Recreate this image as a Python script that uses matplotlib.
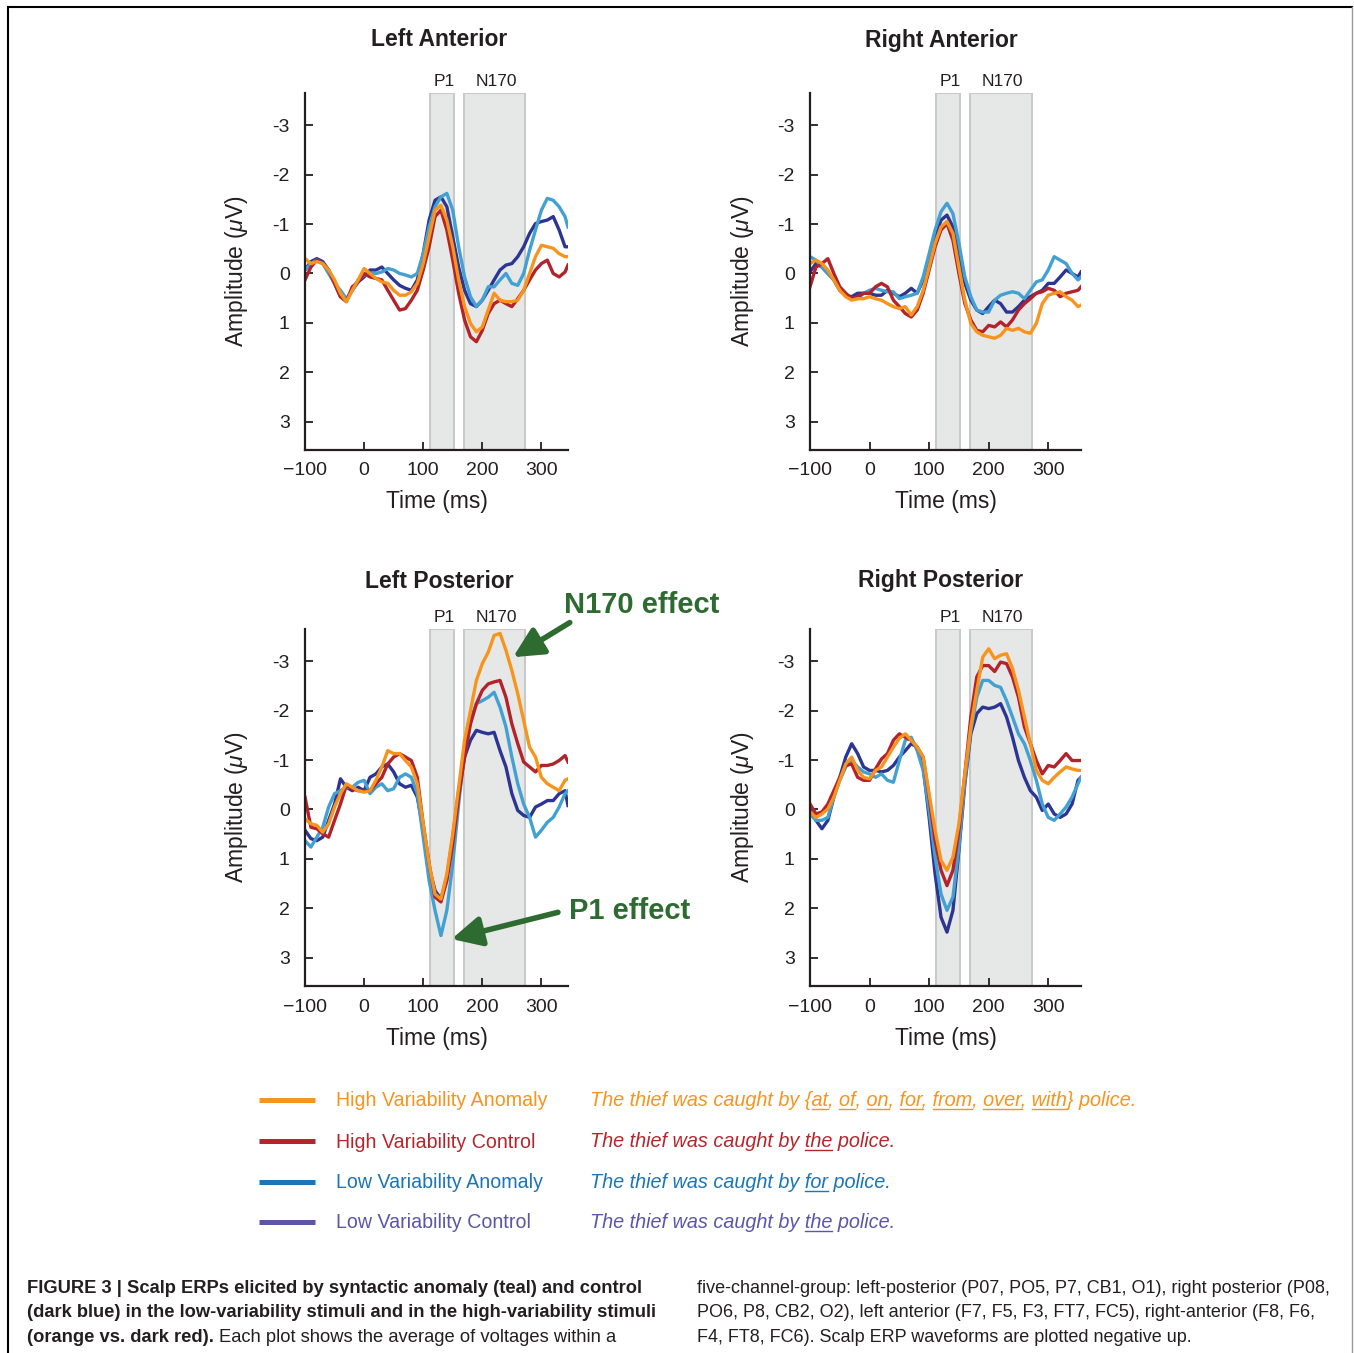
import matplotlib
matplotlib.use("Agg")
import matplotlib.pyplot as plt
from matplotlib.lines import Line2D

plt.rcParams['font.family'] = ['Liberation Sans', 'DejaVu Sans']
plt.rcParams['mathtext.fontset'] = 'custom'
plt.rcParams['mathtext.rm'] = 'Liberation Sans'
plt.rcParams['mathtext.it'] = 'Liberation Sans:italic'

W, H = 1354, 1353

# ---------------- data ----------------
time_left = [-100, -90, -80, -70, -60, -50, -40, -30, -20, -10,
             0, 10, 20, 30, 40, 50, 60, 70, 80, 90,
             100, 110, 120, 130, 140, 150, 160, 170, 180, 190,
             200, 210, 220, 230, 240, 250, 260, 270, 280, 290,
             300, 310, 320, 330, 340, 345]
time_right = [-100, -90, -80, -70, -60, -50, -40, -30, -20, -10,
              0, 10, 20, 30, 40, 50, 60, 70, 80, 90,
              100, 110, 120, 130, 140, 150, 160, 170, 180, 190,
              200, 210, 220, 230, 240, 250, 260, 270, 280, 290,
              300, 310, 320, 330, 340, 350, 355]

# Left Anterior
la_hva = [-0.3, -0.2, -0.24, -0.2, -0.07, 0.13, 0.4, 0.57, 0.34, 0.13,
          -0.1, 0, 0.1, 0.17, 0.2, 0.34, 0.44, 0.44, 0.37, 0.2,
          -0.2, -0.74, -1.28, -1.38, -1.08, -0.54, 0.13, 0.67, 1.01, 1.18,
          1.08, 0.74, 0.4, 0.54, 0.57, 0.57, 0.54, 0.34, 0, -0.34,
          -0.57, -0.54, -0.51, -0.4, -0.34, -0.34]
la_hvc = [0.13, -0.13, -0.27, -0.2, -0.07, 0.2, 0.47, 0.57, 0.27, 0.17,
          0, 0.07, 0.1, 0.13, 0.34, 0.54, 0.74, 0.71, 0.54, 0.34,
          -0.07, -0.54, -1.15, -1.28, -0.88, -0.27, 0.4, 0.94, 1.28, 1.38,
          1.15, 0.81, 0.61, 0.54, 0.61, 0.67, 0.51, 0.34, 0.13, -0.07,
          -0.2, -0.27, 0, 0.07, -0.03, -0.17]
la_lva = [-0.07, -0.2, -0.27, -0.2, 0, 0.2, 0.34, 0.51, 0.34, 0.13,
          0.03, 0, 0, -0.03, -0.1, -0.07, 0, 0.03, 0.07, 0,
          -0.4, -0.94, -1.35, -1.55, -1.62, -1.28, -0.54, 0.07, 0.47, 0.67,
          0.54, 0.27, 0.27, 0.13, 0, 0.2, 0.24, 0, -0.47, -0.88,
          -1.28, -1.52, -1.48, -1.35, -1.15, -0.94]
la_lvc = [-0.07, -0.24, -0.3, -0.24, -0.07, 0.2, 0.47, 0.54, 0.34, 0.17,
          0.07, -0.07, -0.07, -0.13, 0, 0.13, 0.24, 0.3, 0.34, 0.13,
          -0.4, -1.08, -1.48, -1.55, -1.35, -0.74, -0.13, 0.34, 0.61, 0.67,
          0.54, 0.34, 0.13, -0.07, -0.17, -0.2, -0.34, -0.54, -0.81, -1.01,
          -1.05, -1.08, -1.15, -0.88, -0.54, -0.54]

# Right Anterior
ra_hva = [-0.2, -0.27, -0.2, -0.07, 0.13, 0.34, 0.47, 0.54, 0.51, 0.51,
          0.47, 0.51, 0.54, 0.61, 0.67, 0.71, 0.67, 0.84, 0.67, 0.34,
          -0.13, -0.61, -0.94, -1.05, -0.81, -0.13, 0.54, 1.01, 1.18, 1.25,
          1.28, 1.31, 1.25, 1.11, 1.15, 1.11, 1.18, 1.21, 1.01, 0.61,
          0.44, 0.4, 0.37, 0.47, 0.54, 0.67, 0.64]
ra_hvc = [0.27, -0.13, -0.2, -0.3, 0, 0.27, 0.4, 0.51, 0.47, 0.4,
          0.4, 0.27, 0.2, 0.27, 0.54, 0.67, 0.81, 0.88, 0.74, 0.4,
          -0.07, -0.54, -0.88, -1.01, -0.67, 0, 0.61, 0.94, 1.15, 1.18,
          1.05, 1.08, 0.98, 1.08, 0.94, 0.74, 0.61, 0.51, 0.4, 0.37,
          0.3, 0.34, 0.47, 0.4, 0.37, 0.34, 0.27]
ra_lva = [-0.34, -0.27, -0.13, 0, 0.13, 0.34, 0.44, 0.51, 0.51, 0.4,
          0.34, 0.3, 0.34, 0.37, 0.37, 0.51, 0.47, 0.44, 0.4, 0.07,
          -0.4, -0.88, -1.25, -1.42, -1.21, -0.61, 0.07, 0.47, 0.74, 0.78,
          0.78, 0.54, 0.44, 0.4, 0.37, 0.4, 0.51, 0.34, 0.17, 0.13,
          -0.07, -0.34, -0.27, -0.2, 0, 0.13, 0.07]
ra_lvc = [-0.03, -0.2, -0.13, 0, 0.13, 0.34, 0.44, 0.47, 0.4, 0.4,
          0.4, 0.44, 0.44, 0.34, 0.4, 0.47, 0.4, 0.3, 0.4, 0.13,
          -0.34, -0.74, -1.08, -1.18, -0.94, -0.4, 0.2, 0.54, 0.74, 0.81,
          0.67, 0.54, 0.61, 0.78, 0.78, 0.67, 0.54, 0.47, 0.4, 0.34,
          0.2, 0.2, 0.07, -0.07, 0, 0.07, -0.03]

# Left Posterior
lp_hva = [0.19, 0.29, 0.32, 0.46, 0.29, -0.05, -0.32, -0.52, -0.45, -0.38,
          -0.35, -0.38, -0.59, -0.86, -1.19, -1.13, -1.13, -0.99, -0.86, -0.52,
          0.29, 1.1, 1.71, 1.81, 1.3, 0.49, -0.45, -1.4, -2.0, -2.61,
          -2.95, -3.18, -3.52, -3.56, -3.22, -2.81, -2.34, -1.8, -1.26, -1.06,
          -0.65, -0.52, -0.45, -0.38, -0.59, -0.62]
lp_hvc = [-0.25, 0.36, 0.39, 0.49, 0.56, 0.22, -0.11, -0.49, -0.42, -0.38,
          -0.38, -0.38, -0.52, -0.65, -0.92, -1.06, -1.13, -1.06, -0.99, -0.65,
          0.29, 1.1, 1.77, 1.87, 1.44, 0.69, -0.25, -1.06, -1.73, -2.14,
          -2.41, -2.54, -2.58, -2.61, -2.27, -1.73, -1.33, -0.96, -0.86, -0.76,
          -0.89, -0.89, -0.92, -0.99, -1.09, -0.96]
lp_lva = [0.63, 0.76, 0.56, 0.36, -0.05, -0.32, -0.38, -0.45, -0.45, -0.55,
          -0.59, -0.32, -0.45, -0.52, -0.38, -0.42, -0.65, -0.72, -0.65, -0.32,
          0.56, 1.44, 2.04, 2.55, 2.04, 1.1, -0.11, -1.19, -1.8, -2.14,
          -2.2, -2.27, -2.37, -2.07, -1.67, -1.06, -0.52, -0.11, 0.16, 0.56,
          0.42, 0.26, 0.16, -0.05, -0.32, -0.38]
lp_lvc = [0.42, 0.59, 0.63, 0.56, 0.22, -0.11, -0.62, -0.45, -0.38, -0.45,
          -0.38, -0.65, -0.72, -0.86, -0.92, -0.76, -0.52, -0.45, -0.49, -0.25,
          0.42, 1.17, 1.64, 1.81, 1.37, 0.56, -0.38, -1.06, -1.4, -1.6,
          -1.56, -1.53, -1.56, -1.19, -0.86, -0.32, 0.02, 0.12, 0.16, -0.05,
          -0.11, -0.18, -0.18, -0.32, -0.38, -0.08]

# Right Posterior
rp_hva = [0.05, 0.16, 0.09, -0.01, -0.25, -0.59, -0.92, -1.06, -0.79, -0.65,
          -0.62, -0.79, -0.86, -1.06, -1.26, -1.44, -1.53, -1.4, -1.26, -1.06,
          -0.32, 0.42, 1.03, 1.23, 0.96, 0.29, -0.72, -1.67, -2.41, -3.08,
          -3.25, -3.05, -3.12, -3.15, -2.85, -2.41, -1.87, -1.33, -0.79, -0.59,
          -0.52, -0.65, -0.76, -0.86, -0.82, -0.79, -0.79]
rp_hvc = [-0.11, 0.09, 0.05, -0.11, -0.38, -0.65, -0.89, -0.92, -0.65, -0.59,
          -0.59, -0.82, -1.02, -1.13, -1.4, -1.53, -1.46, -1.4, -1.26, -1.06,
          -0.25, 0.63, 1.23, 1.54, 1.23, 0.42, -0.72, -1.87, -2.68, -2.91,
          -2.91, -2.79, -2.98, -2.95, -2.68, -2.27, -1.67, -1.33, -0.99, -0.72,
          -0.89, -0.86, -0.99, -1.13, -0.99, -0.99, -0.99]
rp_lva = [0.09, 0.22, 0.22, 0.16, -0.25, -0.59, -0.86, -0.99, -0.86, -0.76,
          -0.72, -0.65, -0.72, -0.59, -0.55, -0.99, -1.4, -1.46, -1.19, -0.79,
          0.02, 0.96, 1.71, 2.04, 1.77, 0.76, -0.59, -1.6, -2.27, -2.61,
          -2.61, -2.51, -2.47, -2.2, -1.87, -1.53, -1.33, -0.99, -0.59, -0.11,
          0.16, 0.22, 0.09, -0.05, -0.25, -0.52, -0.65]
rp_lvc = [0.02, 0.22, 0.39, 0.22, -0.25, -0.65, -1.06, -1.33, -1.13, -0.86,
          -0.79, -0.79, -0.76, -0.79, -0.89, -1.06, -1.19, -1.33, -1.26, -0.86,
          0.16, 1.3, 2.18, 2.48, 2.04, 0.83, -0.52, -1.53, -1.94, -2.07,
          -2.04, -2.07, -2.14, -1.87, -1.46, -0.99, -0.65, -0.38, -0.25, 0.02,
          -0.11, 0.09, 0.16, 0.09, -0.11, -0.59, -0.65]

panel_titles = ["Left Anterior", "Right Anterior", "Left Posterior", "Right Posterior"]
series_labels = ["High Variability Anomaly", "High Variability Control",
                 "Low Variability Anomaly", "Low Variability Control"]
band_names = ["P1", "N170"]
band_p1 = (112, 152)
band_n170 = (169, 272)
x_ticks = [-100, 0, 100, 200, 300]
y_ticks = [-3, -2, -1, 0, 1, 2, 3]
y_ticklabels = ["-3", "-2", "-1", "0", "1", "2", "3"]

# ---------------- styles ----------------
line_colors = {"hva": "#f7941d", "hvc": "#b3232b", "lva": "#42a0d2", "lvc": "#2c3592"}
legend_colors = ["#f7941d", "#b5262c", "#1b75b6", "#5b56a8"]
text_dark = "#231f20"
green = "#2e6b30"
shade_face = "#e6e8e8"
shade_edge = "#c8caca"

fig = plt.figure(figsize=(W / 100, H / 100), dpi=100)
renderer = fig.canvas.get_renderer()


def px(x, y):
    return x / W, 1 - y / H


def axes_rect(left, right, top, bottom):
    return [left / W, 1 - bottom / H, (right - left) / W, (bottom - top) / H]


panels = [
    (axes_rect(305, 568, 93, 450), time_left, (-100, 345), [la_lvc, la_lva, la_hvc, la_hva], (439, 40)),
    (axes_rect(810, 1081, 93, 450), time_right, (-100, 355), [ra_lvc, ra_lva, ra_hvc, ra_hva], (941, 40)),
    (axes_rect(305, 568, 629, 986), time_left, (-100, 345), [lp_lvc, lp_lva, lp_hvc, lp_hva], (439, 581)),
    (axes_rect(810, 1081, 629, 986), time_right, (-100, 355), [rp_lvc, rp_lva, rp_hvc, rp_hva], (941, 581)),
]
order_colors = [line_colors["lvc"], line_colors["lva"], line_colors["hvc"], line_colors["hva"]]

axes = []
for (rect, t, xl, series, tpos), title in zip(panels, panel_titles):
    ax = fig.add_axes(rect)
    axes.append(ax)
    for (a, b) in (band_p1, band_n170):
        ax.axvspan(a, b, facecolor=shade_face, edgecolor=shade_edge, lw=1.5, zorder=0)
    for ys, c in zip(series, order_colors):
        ax.plot(t, ys, color=c, lw=2.4, solid_joinstyle='round', zorder=2)
    ax.set_xlim(*xl)
    ax.set_ylim(3.57, -3.65)
    for s in ("top", "right"):
        ax.spines[s].set_visible(False)
    for s in ("left", "bottom"):
        ax.spines[s].set_linewidth(1.6)
        ax.spines[s].set_color(text_dark)
    ax.set_xticks(x_ticks)
    ax.set_yticks(y_ticks)
    ax.set_yticklabels(y_ticklabels)
    ax.tick_params(direction='in', length=6, width=1.3, labelsize=14, colors=text_dark)
    ax.tick_params(axis='y', pad=11)
    ax.tick_params(axis='x', pad=9)
    ax.set_xlabel("Time (ms)", fontsize=16.5, color=text_dark)
    ax.xaxis.label.set_va('center')
    ax.xaxis.set_label_coords(0.5, -52 / 357)
    ax.set_ylabel(r"Amplitude ($\mu$V)", fontsize=16.5, color=text_dark)
    ax.yaxis.label.set_va('center')
    wpx = rect[2] * W
    ax.yaxis.set_label_coords(-68 / wpx, 0.5)
    for (a, b), name in zip((band_p1, band_n170), band_names):
        ax.text((a + b) / 2 + 3, 1.012, name, transform=ax.get_xaxis_transform(),
                ha='center', va='bottom', fontsize=12.5, color=text_dark)
    fig.text(*px(*tpos), title, ha='center', va='center', fontsize=16.5,
             fontweight='bold', color=text_dark)

# annotations on Left Posterior
axlp = axes[2]
axlp.annotate("", xy=(252, -3.08), xytext=(348, -3.78), annotation_clip=False,
              arrowprops=dict(arrowstyle='-|>,head_length=0.9,head_width=0.45', lw=4,
                              color=green, shrinkA=0, shrinkB=0, mutation_scale=20))
axlp.annotate("", xy=(148, 2.62), xytext=(328, 2.08), annotation_clip=False,
              arrowprops=dict(arrowstyle='-|>,head_length=0.9,head_width=0.45', lw=4,
                              color=green, shrinkA=0, shrinkB=0, mutation_scale=20))
fig.text(*px(564, 605), "N170 effect", ha='left', va='center', fontsize=21,
         fontweight='bold', color=green)
fig.text(*px(569, 911), "P1 effect", ha='left', va='center', fontsize=21,
         fontweight='bold', color=green)


def textw(s, **kw):
    tt = fig.text(0, 0, s, **kw)
    w = tt.get_window_extent(renderer).width
    tt.remove()
    return w


# legend
sentences = [
    ("The thief was caught by {", ["at", ", ", "of", ", ", "on", ", ", "for", ", ", "from", ", ",
                                   "over", ", ", "with"], "} police."),
    ("The thief was caught by ", ["the"], " police."),
    ("The thief was caught by ", ["for"], " police."),
    ("The thief was caught by ", ["the"], " police."),
]
leg_y = [1100, 1141, 1182, 1222]
for label, col, yy, (pre, mids, post) in zip(series_labels, legend_colors, leg_y, sentences):
    fig.add_artist(Line2D([259 / W, 315 / W], [1 - yy / H] * 2, color=col, lw=3.6,
                          solid_capstyle='butt'))
    fig.text(*px(336, yy + 1), label, ha='left', va='center', fontsize=14.1, color=col)
    kw = dict(fontsize=14.3, style='italic', color=col)
    full = pre + "".join(mids) + post
    base = yy + 6
    fig.text(*px(590, base), full, ha='left', va='baseline', **kw)
    prefix = pre
    for i, m in enumerate(mids):
        if i % 2 == 0:
            x1 = 590 + textw(prefix + m, **kw)
            x0 = x1 - textw(m, **kw)
            fig.add_artist(Line2D([x0 / W, x1 / W], [1 - (base + 3) / H] * 2,
                                  color=col, lw=1.0))
        prefix += m

# caption
cap_size = 13.2
cap_size_right = 13.0
left_lines = [
    [("FIGURE 3 | Scalp ERPs elicited by syntactic anomaly (teal) and control", 'bold')],
    [("(dark blue) in the low-variability stimuli and in the high-variability stimuli", 'bold')],
    [("(orange vs. dark red).", 'bold'), ("Each plot shows the average of voltages within a", 'normal')],
]
right_lines = [
    "five-channel-group: left-posterior (P07, PO5, P7, CB1, O1), right posterior (P08,",
    "PO6, P8, CB2, O2), left anterior (F7, F5, F3, FT7, FC5), right-anterior (F8, F6,",
    "F4, FT8, FC6). Scalp ERP waveforms are plotted negative up.",
]
cap_base = [1293, 1317, 1342]
space_w = 0.278 * cap_size * 100 / 72
for parts, yb in zip(left_lines, cap_base):
    x = 27
    for s, wt in parts:
        fig.text(*px(x, yb), s, ha='left', va='baseline', fontsize=cap_size,
                 fontweight=wt, color=text_dark)
        x += textw(s, fontsize=cap_size, fontweight=wt) + space_w
for s, yb in zip(right_lines, cap_base):
    fig.text(*px(697, yb), s, ha='left', va='baseline', fontsize=cap_size_right,
             color=text_dark)

# frame
fig.add_artist(Line2D([8 / W, 1352 / W], [1 - 7 / H] * 2, color='black', lw=1.5))
fig.add_artist(Line2D([8 / W, 8 / W], [1 - 7 / H, 0], color='black', lw=1.5))
fig.add_artist(Line2D([1352 / W, 1352 / W], [1 - 7 / H, 0], color='#9a9a9a', lw=1.0))

fig.savefig("out.png", dpi=100, facecolor='white')
